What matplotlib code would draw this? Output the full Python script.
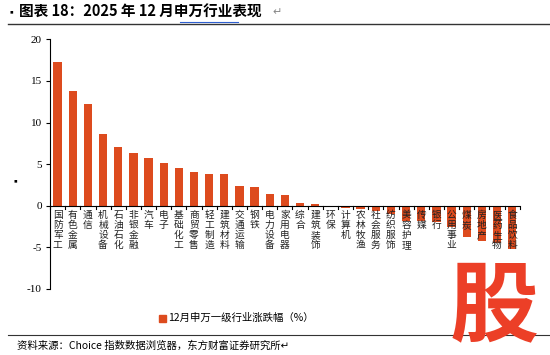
import matplotlib
matplotlib.use("Agg")
import matplotlib.pyplot as plt
import numpy as np

plt.rcParams['font.family'] = ['Noto Sans CJK SC', 'DejaVu Sans']

industries = ['国防军工', '有色金属', '通信', '机械设备', '石油石化', '非银金融', '汽车', '电子',
              '基础化工', '商贸零售', '轻工制造', '建筑材料', '交通运输', '钢铁', '电力设备', '家用电器',
              '综合', '建筑装饰', '环保', '计算机', '农林牧渔', '社会服务', '纺织服饰', '美容护理',
              '传媒', '银行', '公用事业', '煤炭', '房地产', '医药生物', '食品饮料']
changes = [17.3, 13.8, 12.2, 8.6, 7.1, 6.4, 5.8, 5.2,
           4.5, 4.1, 3.8, 3.8, 2.4, 2.2, 1.4, 1.3,
           0.3, 0.2, -0.2, -0.3, -0.4, -0.65, -1.0, -1.8,
           -1.8, -1.9, -2.6, -3.7, -4.2, -4.5, -5.2]
yticks = [-10, -5, 0, 5, 10, 15, 20]
legend_label = '12月申万一级行业涨跌幅（%）'
title = '图表 18：2025 年 12 月申万行业表现'
source = '资料来源：Choice 指数数据浏览器，东方财富证券研究所'

bar_color = '#DD4B1E'

fig = plt.figure(figsize=(5.5, 3.55), dpi=100)
ax = fig.add_axes([0.091, 0.186, 0.854, 0.703])

x = np.arange(len(industries))
ax.bar(x, changes, width=0.55, color=bar_color, zorder=2)

ax.set_xlim(-0.5, len(industries) - 0.5)
ax.set_ylim(-10, 20)
ax.set_yticks(yticks)
ax.set_yticklabels([str(v) for v in yticks], fontsize=8, family='Liberation Serif')
ax.tick_params(axis='y', direction='out', length=3, width=0.8, pad=3)

for s in ['top', 'right', 'bottom']:
    ax.spines[s].set_visible(False)
ax.spines['left'].set_linewidth(0.8)
ax.axhline(0, color='black', lw=0.8, zorder=3)

# category labels stacked vertically, hanging just under the zero line
ax.set_xticks([])
for xi, name in zip(x, industries):
    ax.text(xi, -0.5, '\n'.join(name), ha='center', va='top', fontsize=7,
            linespacing=1.0, color='#222222', zorder=4)
# small tick marks between categories on the zero line
for b in np.arange(-0.5, len(industries) + 0.5, 1):
    ax.plot([b, b], [0, -0.35], color='black', lw=0.8, zorder=3, clip_on=False)

# legend
fig.patches.append(plt.Rectangle((159 / 550, 1 - 322 / 355), 7 / 550, 7 / 355,
                                 transform=fig.transFigure, color=bar_color))
fig.text(168 / 550, 1 - 318 / 355, legend_label, fontsize=7.5, va='center', ha='left')

# title and rules
fig.text(7 / 550, 1 - 12 / 355, '▪', fontsize=7, va='center', ha='left')
fig.text(19 / 550, 1 - 12 / 355, title, fontsize=10.5, fontweight='bold', va='center', ha='left')
fig.text(272 / 550, 1 - 12 / 355, '↵', fontsize=8, va='center', ha='left', color='#888888')
fig.add_artist(plt.Line2D([8 / 550, 1], [1 - 23.5 / 355] * 2, color='#333333', lw=1.0))
fig.add_artist(plt.Line2D([180 / 550, 238 / 550], [1 - 22 / 355] * 2, color='#3060D0', lw=0.8))

fig.text(10 / 550, 1 - 181 / 355, '▪', fontsize=7, va='center', ha='left')

fig.add_artist(plt.Line2D([8 / 550, 1], [1 - 335 / 355] * 2, color='#333333', lw=0.8))
fig.text(17 / 550, 1 - 346 / 355, source + '↵', fontsize=7.5, va='center', ha='left')

# watermark in lower right
fig.text(494 / 550, 1 - 308 / 355, '股', fontsize=64, fontweight='heavy', color='#EC3F27',
         va='center', ha='center', zorder=10)

fig.savefig('out.png', dpi=100)
